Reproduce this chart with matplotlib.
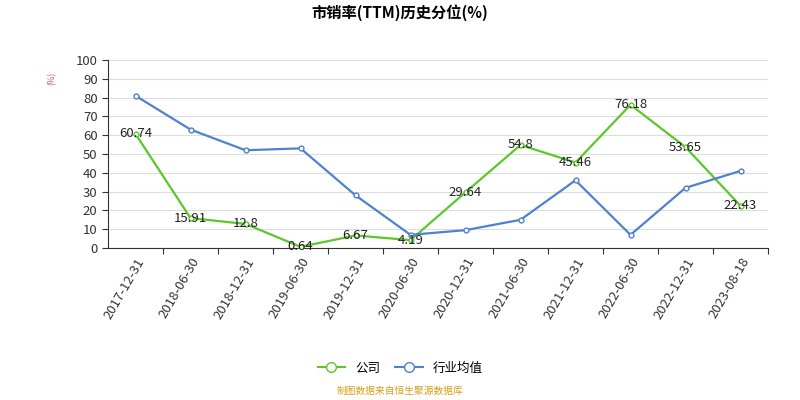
import matplotlib
matplotlib.use("Agg")
import matplotlib.pyplot as plt

plt.rcParams['font.family'] = ['Noto Sans CJK SC', 'DejaVu Sans']

dates = ["2017-12-31", "2018-06-30", "2018-12-31", "2019-06-30", "2019-12-31", "2020-06-30",
         "2020-12-31", "2021-06-30", "2021-12-31", "2022-06-30", "2022-12-31", "2023-08-18"]
company = [60.74, 15.91, 12.8, 0.64, 6.67, 4.19, 29.64, 54.8, 45.46, 76.18, 53.65, 22.43]
industry = [81, 63, 52, 53, 28, 7, 9.5, 15, 36, 7, 32, 41]

fig = plt.figure(figsize=(8, 4), dpi=100)
ax = fig.add_axes([0.135, 0.38, 0.825, 0.47])
x = list(range(len(dates)))
green = "#5cc72b"
blue = "#4f81d0"
ax.plot(x, company, color=green, lw=1.6, marker='o', ms=3.5, mfc='white', mec=green, zorder=3)
ax.plot(x, industry, color=blue, lw=1.6, marker='o', ms=3.5, mfc='white', mec=blue, zorder=3)
for xi, v in zip(x, company):
    ax.text(xi, v, f"{v:g}", ha='center', va='center', fontsize=9.5, color='#222222', zorder=4)

ax.set_xlim(-0.5, len(dates) - 0.5)
ax.set_ylim(0, 100)
ax.set_yticks(range(0, 101, 10))
ax.set_xticks([i + 0.5 for i in x])
ax.set_xticklabels([])
for xi, d in zip(x, dates):
    ax.text(xi, -4, d, rotation=60, ha='right', va='top', fontsize=9.5, color='#333333',
            transform=ax.transData, rotation_mode='anchor')
ax.tick_params(axis='y', labelsize=9.5, colors='#333333', length=4)
ax.tick_params(axis='x', length=4, colors='#333333')
ax.grid(axis='y', color='#dddddd', lw=0.8)
for s in ['top', 'right']:
    ax.spines[s].set_visible(False)
ax.spines['left'].set_color('#333333')
ax.spines['bottom'].set_color('#333333')
ax.text(-0.085, 0.9, "(%)", transform=ax.transAxes, rotation=90, fontsize=6, color='#e05050',
        ha='center', va='center')

fig.suptitle("市销率(TTM)历史分位(%)", fontsize=11, fontweight='bold', y=0.99, x=0.5)
from matplotlib.lines import Line2D
h = [Line2D([], [], color=green, marker='o', mfc='white', ms=7, lw=1.5),
     Line2D([], [], color=blue, marker='o', mfc='white', ms=7, lw=1.5)]
fig.legend(h, ["公司", "行业均值"], loc='center', bbox_to_anchor=(0.5, 0.08), ncol=2,
           frameon=False, fontsize=9, handlelength=2.2, columnspacing=1.2)
fig.text(0.5, 0.015, "制图数据来自恒生聚源数据库", ha='center', fontsize=7, color='#d4a017')
fig.savefig("out.png")
